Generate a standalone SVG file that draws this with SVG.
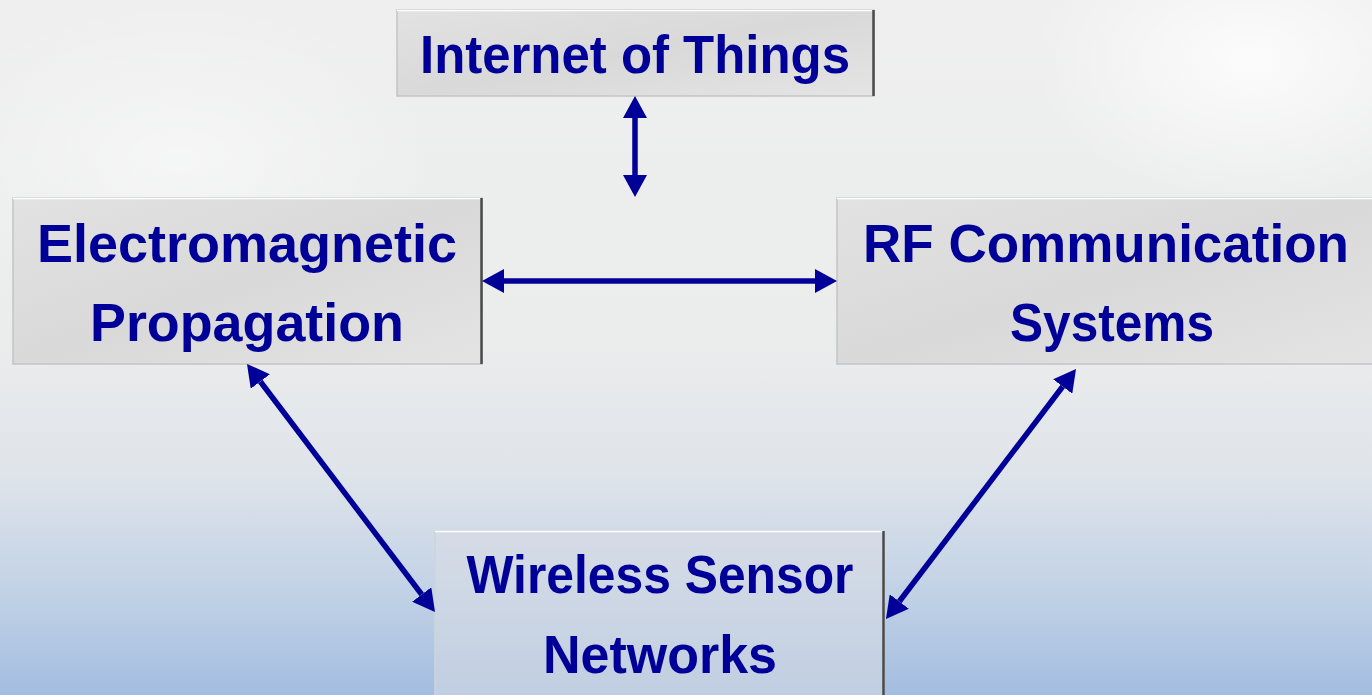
<svg xmlns="http://www.w3.org/2000/svg" width="1372" height="695" viewBox="0 0 1372 695">
  <defs>
    <linearGradient id="bg" x1="0" y1="0" x2="0" y2="1">
      <stop offset="0" stop-color="#efefef"/>
      <stop offset="0.5" stop-color="#ebecec"/>
      <stop offset="0.68" stop-color="#dfe4ea"/>
      <stop offset="0.85" stop-color="#c2d2e6"/>
      <stop offset="1" stop-color="#a3bde0"/>
    </linearGradient>
    <radialGradient id="glow" cx="0.5" cy="0.5" r="0.5">
      <stop offset="0" stop-color="#ffffff" stop-opacity="0.8"/>
      <stop offset="1" stop-color="#ffffff" stop-opacity="0"/>
    </radialGradient>
    <linearGradient id="boxfill" x1="0" y1="0" x2="1" y2="1">
      <stop offset="0" stop-color="#e2e2e2"/>
      <stop offset="0.5" stop-color="#d9d9d9"/>
      <stop offset="1" stop-color="#e4e4e4"/>
    </linearGradient>
    <marker id="ah" viewBox="0 -12 22 24" markerWidth="22" markerHeight="24" refX="0" refY="0" markerUnits="userSpaceOnUse" orient="auto-start-reverse">
      <path d="M0,-12 L22,0 L0,12 z" fill="#000099"/>
    </marker>
  </defs>
  <style>
    .box { fill: url(#boxfill); stroke: #c4c4c4; stroke-width: 1.5; }
    .boxlow { fill: #d8dde4; fill-opacity: 0.55; stroke: #d0d4da; stroke-width: 1.5; }
    .edge { stroke: #4a4a4a; stroke-width: 2.5; fill: none; }
    .top { stroke: #ffffff; stroke-width: 1.5; fill: none; }
    .lbl { font-family: "Liberation Sans", Arial, sans-serif; font-weight: bold; font-size: 54px; fill: #000099; text-anchor: middle; }
    .conn { stroke: #000099; stroke-width: 5.5; fill: none; marker-start: url(#ah); marker-end: url(#ah); }
  </style>
  <rect x="0" y="0" width="1372" height="695" fill="url(#bg)"/>
  <ellipse cx="1250" cy="60" rx="220" ry="140" fill="url(#glow)"/>
  <ellipse cx="180" cy="160" rx="260" ry="160" fill="url(#glow)" opacity="0.6"/>

  <g id="node-iot">
    <rect class="box" x="397" y="10" width="477" height="86"/>
    <line class="top" x1="397" y1="10.5" x2="874" y2="10.5"/>
    <line class="edge" x1="873.5" y1="10" x2="873.5" y2="96"/>
    <text class="lbl" x="635" y="73" textLength="430" lengthAdjust="spacingAndGlyphs">Internet of Things</text>
  </g>

  <g id="node-em">
    <rect class="box" x="13" y="198" width="469" height="166"/>
    <line class="top" x1="13" y1="198.5" x2="482" y2="198.5"/>
    <line class="edge" x1="481.5" y1="198" x2="481.5" y2="364"/>
    <text class="lbl" x="247" y="262" textLength="420" lengthAdjust="spacingAndGlyphs">Electromagnetic</text>
    <text class="lbl" x="247" y="341" textLength="314" lengthAdjust="spacingAndGlyphs">Propagation</text>
  </g>

  <g id="node-rf">
    <rect class="box" x="837" y="198" width="545" height="166"/>
    <line class="top" x1="837" y1="198.5" x2="1372" y2="198.5"/>
    <text class="lbl" x="1106" y="262" textLength="486" lengthAdjust="spacingAndGlyphs">RF Communication</text>
    <text class="lbl" x="1112" y="341" textLength="204" lengthAdjust="spacingAndGlyphs">Systems</text>
  </g>

  <g id="node-wsn">
    <rect class="boxlow" x="435" y="531" width="449" height="175"/>
    <line class="top" x1="435" y1="531.5" x2="884" y2="531.5"/>
    <line class="edge" x1="883.5" y1="531" x2="883.5" y2="695"/>
    <text class="lbl" x="660" y="593" textLength="387" lengthAdjust="spacingAndGlyphs">Wireless Sensor</text>
    <text class="lbl" x="660" y="673" textLength="234" lengthAdjust="spacingAndGlyphs">Networks</text>
  </g>

  <g id="connectors">
    <line class="conn" x1="635" y1="118" x2="635" y2="175"/>
    <line class="conn" x1="504" y1="281" x2="815" y2="281"/>
    <line class="conn" x1="260.3" y1="381.5" x2="421.7" y2="594.5"/>
    <line class="conn" x1="1062.7" y1="386.5" x2="899.3" y2="601.5"/>
  </g>
</svg>
